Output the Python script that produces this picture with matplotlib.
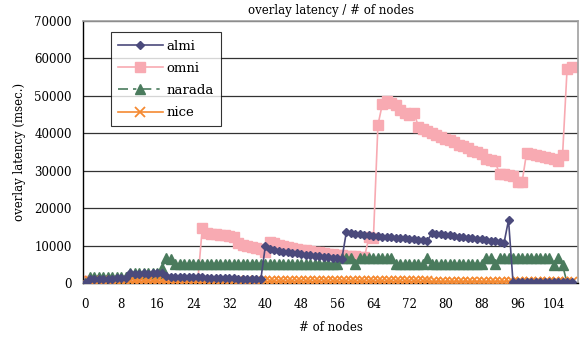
import numpy as np
import matplotlib
matplotlib.use("Agg")
import matplotlib.pyplot as plt

nan = np.nan
nodes = list(range(109))

almi = [0,
        1000, 1100, 1100, 1200, 1200, 1200, 1300, 1300, 1300,
        2800, 2500, 2500, 2600, 2500, 2600, 2600, 2700,
        1800, 1700, 1700, 1600, 1600, 1600, 1500, 1500, 1500, 1400, 1400,
        1400, 1300, 1300, 1300, 1300, 1200, 1200, 1200, 1100, 1100, 1000,
        9900, 9200, 8700, 8500, 8300, 8200, 8000, 7900, 7700, 7500, 7400,
        7200, 7100, 7000, 6900, 6700, 6600, 6500,
        13700, 13400, 13200, 13100, 12900, 12800, 12600, 12500, 12400, 12300,
        12200, 12100, 12000, 11900, 11800, 11700, 11600, 11500, 11300,
        13400, 13200, 13100, 12900, 12700, 12600, 12400, 12300, 12100, 12000,
        11800, 11700, 11500, 11300, 11200, 11000, 10700,
        16800,
        200, 200, 200, 200, 200, 200, 200, 200, 200, 200, 200, 200, 200, 200]

omni = [500, 500, 500, 500, 500, 500, 500, 500, 500, 500, 500, 500, 500,
        500, 500, 500, 500, 500, 500, 500, 500, 500, 500, 500, 500, 600,
        14800, 13300, 13200, 13000, 12900, 12700, 12500, 12400,
        10600, 10200, 9900, 9600, 9300, 9000, 8400,
        11000, 10700, 10200, 9900, 9600, 9300, 9100, 8900, 8700, 8500, 8300,
        8200, 8000, 7800, 7700, 7500, 7400, 7300, 7200, 7100, 7000, 6900,
        12200, 12100,
        42200, 47900, 48500, 48000, 47600, 46100, 45500, 44900, 45400,
        41800, 41200, 40700, 40200, 39600, 39100, 38600, 38100, 37600, 37000,
        36500, 36000, 35400, 34900, 34500,
        33200, 32900, 32500,
        29200, 29000, 28900, 28600,
        27000, 26900,
        34700, 34400, 34200, 33900, 33600, 33300, 33000, 32700,
        34200, 57100, 57800]

narada = [0,
          1700, 1700, 1700, 1700, 1700, 1700, 1700, 1700, 1700,
          2700, 2700, 2700, 2700, 2700, 2700, 2700,
          3900,
          6600, 6300,
          5200, 5200, 5200, 5200, 5200, 5200, 5200, 5200, 5200, 5200, 5200,
          5200, 5200, 5200, 5200, 5200, 5200, 5200, 5200, 5200, 5200, 5200,
          5200, 5200, 5200, 5200, 5200, 5200, 5200, 5200, 5200, 5200, 5200,
          5200, 5200, 5200, 5200,
          6800, 6800, 6800,
          5000,
          6800, 6800, 6800, 6800, 6800, 6800, 6800, 6800,
          5200, 5200, 5200, 5200, 5200, 5200, 5200,
          6800,
          5200, 5200, 5200, 5200, 5200, 5200, 5200, 5200, 5200, 5200, 5200, 5200,
          6800, 6800,
          5200,
          6800, 6800, 6800, 6800, 6800, 6800, 6800, 6800, 6800, 6800, 6800, 6800,
          4800, 6600, 4800, 0, nan]

nice = [0,
        450, 450, 450, 450, 450, 450, 450, 450, 450, 450, 450, 450, 450, 450,
        450, 450, 450, 450, 450, 450, 450, 450, 450, 450, 450, 450, 450, 450,
        450, 450, 450, 450, 450, 450, 450, 450, 450, 450, 450, 450, 450, 450,
        450, 450, 450, 450, 450, 450, 450, 450, 450, 450, 450, 450, 450, 450,
        450, 450, 450, 450, 450, 450, 450, 450, 450, 450, 450, 450, 450, 450,
        450, 450, 450, 450, 450, 450,
        350, 350, 350, 350, 350, 350, 350, 350, 350, 350, 350, 350, 350, 350,
        350, 350, 350, 350, 350, 350, 350, 350, 350, 350, 350, 350, 350, 350,
        350, 350, 350, 350]

x_ticks = list(range(0, 105, 8))
y_ticks = list(range(0, 70001, 10000))

plt.rcParams['font.family'] = ['DejaVu Serif']

fig = plt.figure(figsize=(5.86, 3.37), dpi=100)
ax = fig.add_axes([0.1416, 0.1602, 0.8453, 0.7775])

ax.plot(nodes, omni, color="#f8aab2", lw=1.2, marker="s", ms=7,
        mec="#f8aab2", label="omni", zorder=2)
ax.plot(nodes, narada, color="#4a7b5d", lw=1.2, dashes=(6, 3, 2, 3),
        marker="^", ms=7, mec="#4a7b5d", label="narada", zorder=3)
ax.plot(nodes, nice, color="#f58a32", lw=1.2, marker="x", ms=6.5,
        mew=1.3, label="nice", zorder=4)
ax.plot(nodes, almi, color="#4b4a7c", lw=1.2, marker="D", ms=4,
        mec="#4b4a7c", label="almi", zorder=5)

ax.set_xlim(-0.5, 109.5)
ax.set_ylim(0, 70000)
ax.set_xticks(x_ticks)
ax.set_yticks(y_ticks)
ax.tick_params(axis="x", length=0, labelsize=8.5, pad=11)
ax.tick_params(axis="y", length=0, labelsize=8.5, pad=8)
ax.grid(axis="y", color="#333333", lw=0.9)
ax.set_axisbelow(True)
for s in ["top", "right"]:
    ax.spines[s].set_color("#a0a0a0")
    ax.spines[s].set_linewidth(1.2)
for s in ["left", "bottom"]:
    ax.spines[s].set_color("black")
    ax.spines[s].set_linewidth(1.0)

ax.set_title("overlay latency / # of nodes", fontsize=8.5, pad=5)
ax.set_xlabel("# of nodes", fontsize=8.5, labelpad=7)
ax.set_ylabel("overlay latency (msec.)", fontsize=8.5, labelpad=6)

h, l = ax.get_legend_handles_labels()
order = [3, 0, 1, 2]
leg = ax.legend([h[i] for i in order], [l[i] for i in order],
                loc="upper left", bbox_to_anchor=(0.056, 0.957),
                fontsize=9.5, handlelength=3.4, frameon=True, fancybox=False,
                edgecolor="black", borderpad=0.55, labelspacing=0.7,
                handletextpad=0.3, borderaxespad=0)
leg.get_frame().set_linewidth(0.8)
leg.set_zorder(10)

fig.savefig("out.png", dpi=100)
